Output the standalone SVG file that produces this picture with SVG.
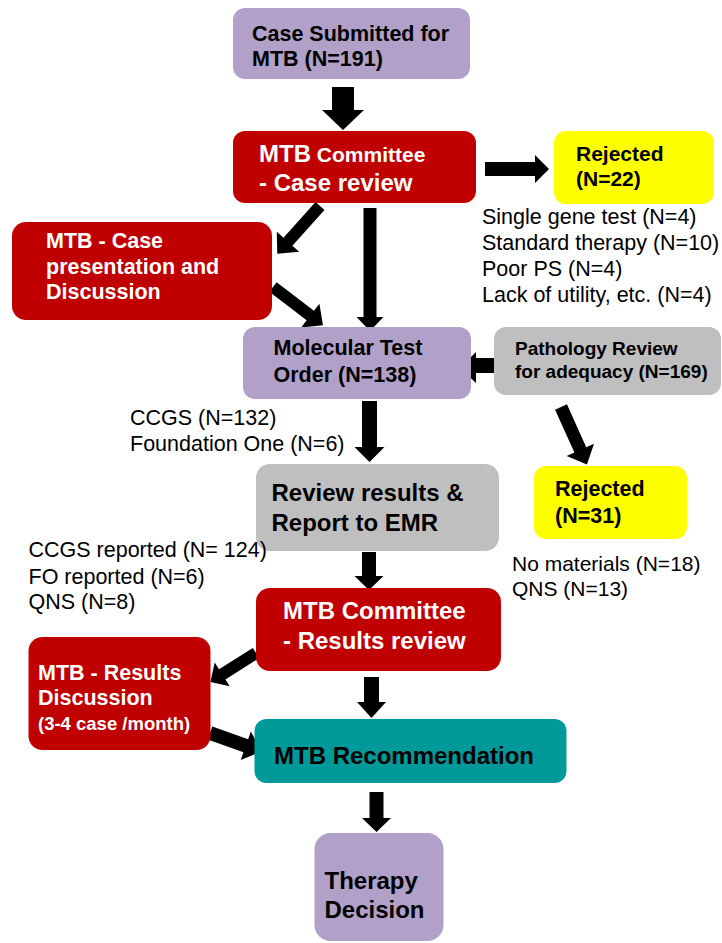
<svg xmlns="http://www.w3.org/2000/svg" width="722" height="943" viewBox="0 0 722 943">
<style>
text{font-family:"Liberation Sans",Arial,Helvetica,sans-serif}
.b{font-weight:bold}
.w{fill:#FFFFFF}
.k{fill:#000000}
.n{font-size:21.5px}
.l{font-size:24px}
.purple{fill:#B1A0C7}
.red{fill:#C00000}
.yellow{fill:#FFFF00}
.gray{fill:#BFBFBF}
.teal{fill:#009999}
.arr{fill:#000000}
</style>
<rect width="722" height="943" fill="#FFFFFF"/>

<g id="connectors">
<polygon class="arr" points="332,87 354,87 354,110 364,110 343,130 322,110 332,110"/>
<polygon class="arr" points="485,162 535,162 535,155 549,169 535,183 535,176 485,176"/>
<polygon class="arr" transform="translate(320,206) rotate(131.9)" points="0,-6 48,-6 48,-15 64,0 48,15 48,6 0,6"/>
<polygon class="arr" transform="translate(273,287) rotate(37.5)" points="0,-6 47,-6 47,-15 63,0 47,15 47,6 0,6"/>
<polygon class="arr" points="363.5,208 376.5,208 376.5,317 383.5,317 370,331 356.5,317 363.5,317"/>
<polygon class="arr" points="495,358 476,358 476,352 460,368 476,383 476,373 495,373"/>
<polygon class="arr" transform="translate(561,407) rotate(65.7)" points="0,-6.5 47,-6.5 47,-15 63,0 47,15 47,6.5 0,6.5"/>
<polygon class="arr" points="362,401 377,401 377,447 384.5,447 369.5,462 354.5,447 362,447"/>
<polygon class="arr" points="362,552 376,552 376,576 383.5,576 369,590 354.5,576 362,576"/>
<polygon class="arr" transform="translate(256,653) rotate(147.6)" points="0,-6 40,-6 40,-14 54,0 40,14 40,6 0,6"/>
<polygon class="arr" transform="translate(210,733) rotate(19.6)" points="0,-7 38,-7 38,-15 55,0 38,15 38,7 0,7"/>
<polygon class="arr" points="364,677 379,677 379,702 386,702 371.5,718 357,702 364,702"/>
<polygon class="arr" points="369.5,792 383.5,792 383.5,818 391,818 376.5,832 362,818 369.5,818"/>
</g>

<g id="node-case-submitted">
<rect class="purple" x="233" y="8" width="237" height="71" rx="12"/>
<text class="b k n" x="252" y="40.5">Case Submitted for</text>
<text class="b k n" x="252" y="65.5">MTB (N=191)</text>
</g>

<g id="node-committee-case-review">
<rect class="red" x="233" y="131" width="243" height="72" rx="12"/>
<text class="b w" x="259" y="162"><tspan font-size="24">MTB</tspan><tspan font-size="21"> Committee</tspan></text>
<text class="b w l" x="259" y="191">- Case review</text>
</g>

<g id="node-rejected-22">
<rect class="yellow" x="554" y="131" width="160" height="73" rx="12"/>
<text class="b k" font-size="21" x="576" y="160.5">Rejected</text>
<text class="b k" font-size="21" x="576" y="186">(N=22)</text>
</g>

<g id="notes-rejected-22">
<text class="k n" x="482" y="224">Single gene test (N=4)</text>
<text class="k n" x="482" y="249.5">Standard therapy (N=10)</text>
<text class="k n" x="482" y="275.5">Poor PS (N=4)</text>
<text class="k n" x="482" y="301.5">Lack of utility, etc. (N=4)</text>
</g>

<g id="node-case-presentation">
<rect class="red" x="12" y="222" width="260" height="98" rx="14"/>
<text class="b w n" x="46" y="248">MTB - Case</text>
<text class="b w n" x="46" y="273.5">presentation and</text>
<text class="b w n" x="46" y="299">Discussion</text>
</g>

<g id="node-molecular-test">
<rect class="purple" x="243" y="327" width="228" height="72" rx="12"/>
<text class="b k n" x="273.5" y="355">Molecular Test</text>
<text class="b k n" x="273.5" y="382">Order (N=138)</text>
</g>

<g id="node-pathology-review">
<rect class="gray" x="494" y="327" width="227" height="68" rx="12"/>
<text class="b k" font-size="19" x="515" y="355">Pathology Review</text>
<text class="b k" font-size="19" x="515" y="378">for adequacy (N=169)</text>
</g>

<g id="notes-tests">
<text class="k n" x="130" y="425">CCGS (N=132)</text>
<text class="k n" x="130" y="451">Foundation One (N=6)</text>
</g>

<g id="node-review-results">
<rect class="gray" x="256" y="464" width="243" height="87" rx="14"/>
<text class="b k l" x="271.5" y="501">Review results &amp;</text>
<text class="b k l" x="271.5" y="530.5">Report to EMR</text>
</g>

<g id="node-rejected-31">
<rect class="yellow" x="534" y="466" width="153" height="73" rx="12"/>
<text class="b k n" x="555" y="496">Rejected</text>
<text class="b k n" x="555" y="522.5">(N=31)</text>
</g>

<g id="notes-rejected-31">
<text class="k" font-size="21" x="512" y="570.5">No materials (N=18)</text>
<text class="k" font-size="21" x="512" y="596">QNS (N=13)</text>
</g>

<g id="notes-reported">
<text class="k n" x="28.5" y="557">CCGS reported (N= 124)</text>
<text class="k n" x="28.5" y="584">FO reported (N=6)</text>
<text class="k n" x="28.5" y="609">QNS (N=8)</text>
</g>

<g id="node-committee-results-review">
<rect class="red" x="256" y="588" width="245" height="83" rx="14"/>
<text class="b w l" x="283" y="618.5">MTB Committee</text>
<text class="b w l" x="283" y="648.5">- Results review</text>
</g>

<g id="node-results-discussion">
<rect class="red" x="28.5" y="637" width="182" height="113" rx="14"/>
<text class="b w n" x="38" y="679.5">MTB - Results</text>
<text class="b w n" x="38" y="705">Discussion</text>
<text class="b w" font-size="18.5" x="38" y="729.5">(3-4 case /month)</text>
</g>

<g id="node-recommendation">
<rect class="teal" x="254.5" y="719" width="312" height="64" rx="12"/>
<text class="b k l" x="274" y="764">MTB Recommendation</text>
</g>

<g id="node-therapy-decision">
<rect class="purple" x="314.5" y="833" width="129" height="108" rx="16"/>
<text class="b k l" x="324.5" y="888.5">Therapy</text>
<text class="b k l" x="324.5" y="917.5">Decision</text>
</g>
</svg>
